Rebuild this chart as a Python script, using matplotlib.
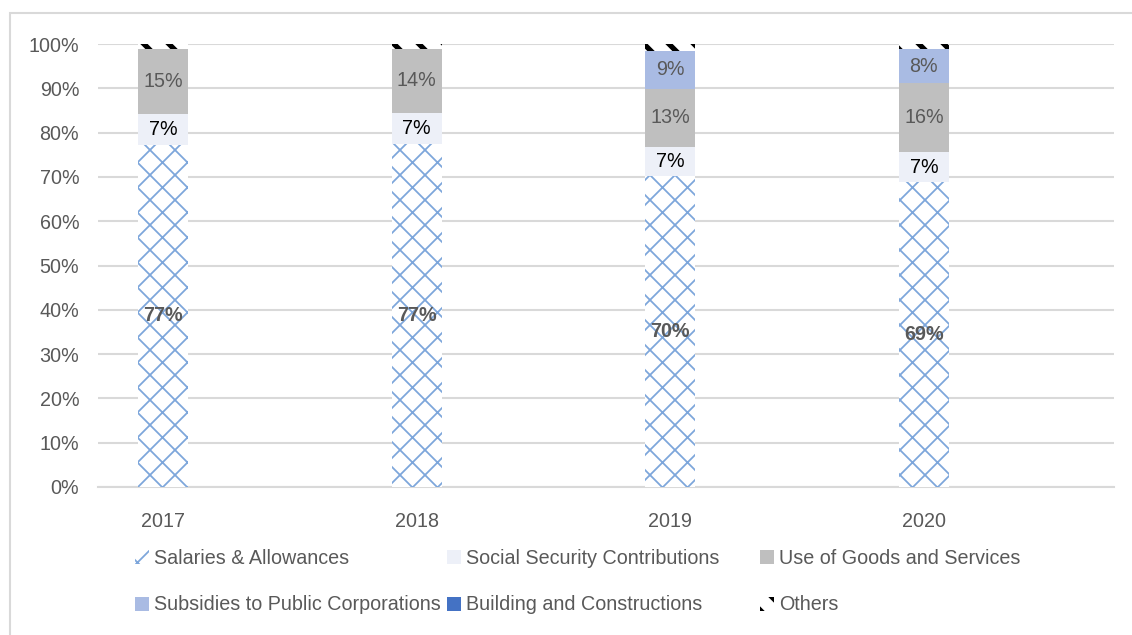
import matplotlib.pyplot as plt
import matplotlib as mpl
from matplotlib.patches import Rectangle, Patch

plt.rcParams['font.family'] = ['Liberation Sans Narrow', 'Liberation Sans', 'DejaVu Sans']

years = ['2017', '2018', '2019', '2020']
series = ['Salaries & Allowances', 'Social Security Contributions', 'Use of Goods and Services',
          'Subsidies to Public Corporations', 'Building and Constructions', 'Others']
salaries = [77.3, 77.4, 70.2, 68.8]
social = [6.8, 7.1, 6.6, 6.8]
goods = [14.8, 14.4, 13.1, 15.5]
subsidies = [0.0, 0.0, 8.6, 7.8]
building = [0.0, 0.0, 0.0, 0.0]
others = [1.1, 1.1, 1.5, 1.1]

W, H, DPI = 1132, 635, 150
fig = plt.figure(figsize=(W / DPI, H / DPI), dpi=DPI)
ax = fig.add_axes([98 / W, 1 - 487 / H, (1114 - 98) / W, (487 - 44) / H])

# style per series: (facecolor, hatch, hatch colour, hatch lw, label colour, bold)
styles = [
    ('white', 'xx', '#7DA6DB', 0.85, '#595959', True),
    ('#EDF0F8', None, None, 0.0, 'black', False),
    ('#BFBFBF', None, None, 0.0, '#595959', False),
    ('#A9BBE3', None, None, 0.0, '#595959', False),
    ('#4472C4', None, None, 0.0, '#595959', False),
    ('white', '\\\\', 'black', 2.5, None, False),
]
data = [salaries, social, goods, subsidies, building, others]

x = list(range(len(years)))
bw = 50 / 253.5
bottom = [0.0] * len(years)
fs = 9.5
handles = []
for vals, (fc, hatch, hc, hlw, lc, bold), name in zip(data, styles, series):
    with mpl.rc_context({'hatch.linewidth': max(hlw, 0.1)}):
        bars = ax.bar(x, [v / 100 for v in vals], bw, bottom=[b / 100 for b in bottom],
                      color=fc, hatch=hatch, edgecolor=hc if hc else fc, linewidth=0, zorder=3)
        h = Patch(facecolor=fc, hatch=hatch, edgecolor=hc if hc else fc, linewidth=0)
    handles.append((h, name, hlw))
    if lc is not None:
        for xi, v, b in zip(x, vals, bottom):
            if v > 0:
                ax.text(xi, (b + v / 2) / 100, '%.0f%%' % v, ha='center', va='center',
                        fontsize=fs, color=lc, fontweight='bold' if bold else 'normal', zorder=4)
    bottom = [b + v for b, v in zip(bottom, vals)]

ax.set_ylim(0, 1)
ax.set_xlim(-65 / 253.5, 3 + 190 / 253.5)
ax.set_yticks([i / 10 for i in range(11)])
ax.set_yticklabels(['%d%%' % (i * 10) for i in range(11)])
ax.set_xticks(x)
ax.set_xticklabels(years)
ax.tick_params(axis='both', length=0, labelsize=fs, labelcolor='#595959')
ax.tick_params(axis='y', pad=9)
ax.tick_params(axis='x', pad=12)
ax.yaxis.grid(True, color='#D9D9D9', linewidth=1.0, zorder=0)
ax.set_axisbelow(True)
for s in ['top', 'right', 'left']:
    ax.spines[s].set_visible(False)
ax.spines['bottom'].set_color('#D9D9D9')
ax.spines['bottom'].set_linewidth(1.0)

# legend, placed entry by entry like the Excel layout
pos = [(135, 558), (447, 558), (760, 558), (135, 605), (447, 605), (760, 605)]
for (h, name, hlw), (px, py) in zip(handles, pos):
    with mpl.rc_context({'hatch.linewidth': max(hlw, 0.1)}):
        leg = fig.legend([h], [name], loc='center left', bbox_to_anchor=(px / W, 1 - py / H),
                         frameon=False, fontsize=fs, handlelength=0.7, handleheight=0.7,
                         handletextpad=0.25, borderpad=0, borderaxespad=0)
    for t in leg.get_texts():
        t.set_color('#595959')

fig.patches.append(Rectangle((10 / W, -0.1), 1.2, 1 - 13 / H + 0.1, transform=fig.transFigure,
                             fill=False, edgecolor='#D9D9D9', linewidth=1.0))

fig.savefig('out.png', dpi=DPI)
